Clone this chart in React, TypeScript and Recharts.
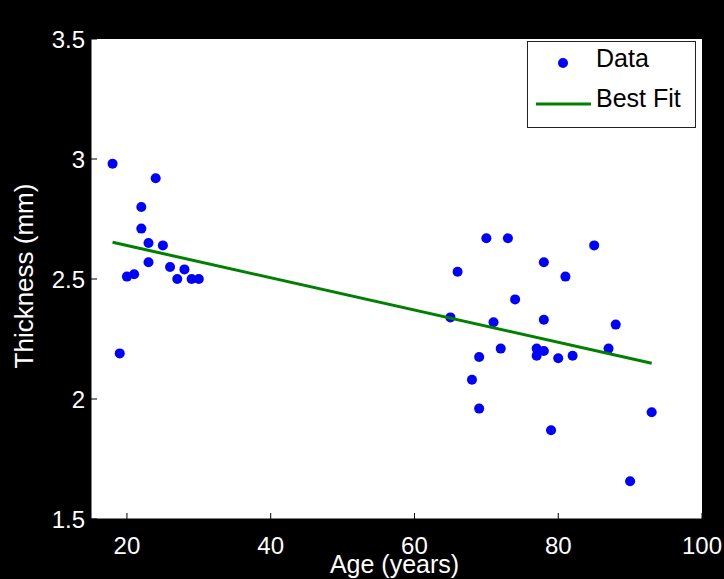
import React from 'react';
import { ScatterChart, Scatter, XAxis, YAxis, CartesianGrid, Legend, Label } from 'recharts';

const ages = [18, 19, 20, 21, 22, 22, 23, 23, 24, 25, 26, 27, 28, 29, 30,
  65, 66, 68, 69, 69, 70, 71, 72, 73, 74, 77, 77, 78, 78, 78, 79, 80, 81, 82, 85, 87, 88, 90, 93];
const thickness = [2.98, 2.19, 2.51, 2.52, 2.80, 2.71, 2.65, 2.57, 2.92, 2.64, 2.55, 2.50, 2.54, 2.50, 2.50,
  2.34, 2.53, 2.08, 2.175, 1.96, 2.67, 2.32, 2.21, 2.67, 2.415, 2.21, 2.18, 2.57, 2.33, 2.20, 1.87, 2.17, 2.51, 2.18, 2.64, 2.21, 2.31, 1.657, 1.945];

const fitAges = [18, 93];
const fitThickness = [2.653, 2.149];

const xTicks = [20, 40, 60, 80, 100];
const yTicks = [1.5, 2, 2.5, 3, 3.5];
const xDomain = [15, 100];
const yDomain = [1.5, 3.5];

const seriesNames = ['Data', 'Best Fit'];
const xLabel = 'Age (years)';
const yLabel = 'Thickness (mm)';

const dataPoints = ages.map((a, i) => ({ x: a, y: thickness[i] }));
const fitPoints = fitAges.map((a, i) => ({ x: a, y: fitThickness[i] }));

const FONT = '"Liberation Sans", Arial, Helvetica, sans-serif';

const Dot = (p: any) => <circle cx={p.cx} cy={p.cy} r={5} fill="#0000ff" />;
const NoShape = () => <g />;
const NoTick = () => <g />;

const LegendBox = () => (
  <svg width={169} height={87} style={{ display: 'block' }}>
    <rect x={0.5} y={0.5} width={168} height={86} fill="#fff" stroke="#222" />
    <circle cx={36} cy={22} r={5} fill="#0000ff" />
    <text x={69} y={26} fontSize={25} fontFamily={FONT} fill="#000">{seriesNames[0]}</text>
    <line x1={9} x2={64} y1={63} y2={63} stroke="#008000" strokeWidth={3} />
    <text x={69} y={66} fontSize={25} fontFamily={FONT} fill="#000">{seriesNames[1]}</text>
  </svg>
);

export default function App() {
  const tickStyle = { fill: '#fff', fontSize: 24, fontFamily: FONT };
  return (
    <div style={{ position: 'absolute', left: 0, top: 0, width: 724, height: 579, background: '#000' }}>
      <ScatterChart width={724} height={579} margin={{ top: 39, right: 22, bottom: 0, left: 0 }}>
        <CartesianGrid fill="#fff" horizontal={false} vertical={false} />
        <XAxis xAxisId="b" type="number" dataKey="x" domain={xDomain} ticks={xTicks} orientation="bottom"
          height={60} allowDataOverflow stroke="#000" axisLine={{ stroke: '#000' }}
          tickLine={{ stroke: '#000' }} tickSize={-6} tickMargin={24} tick={tickStyle}>
          <Label content={() => (
            <text x={394.5} y={573} textAnchor="middle" fontSize={25} fontFamily={FONT} fill="#fff">{xLabel}</text>
          )} />
        </XAxis>
        <XAxis xAxisId="t" type="number" dataKey="x" domain={xDomain} ticks={xTicks} orientation="top"
          height={0} allowDataOverflow axisLine={{ stroke: '#000' }} tickLine={{ stroke: '#000' }}
          tickSize={-6} tick={NoTick} />
        <YAxis yAxisId="l" type="number" dataKey="y" domain={yDomain} ticks={yTicks} orientation="left"
          width={91} allowDataOverflow axisLine={{ stroke: '#000' }} tickLine={{ stroke: '#000' }}
          tickSize={-6} tickMargin={12} tick={tickStyle}>
          <Label content={() => (
            <text x={33} y={276} transform="rotate(-90 33 276)" textAnchor="middle" fontSize={26}
              fontFamily={FONT} fill="#fff">{yLabel}</text>
          )} />
        </YAxis>
        <YAxis yAxisId="r" type="number" dataKey="y" domain={yDomain} ticks={yTicks} orientation="right"
          width={0} allowDataOverflow axisLine={{ stroke: '#000' }} tickLine={{ stroke: '#000' }}
          tickSize={-6} tick={NoTick} />
        <Scatter name={seriesNames[0]} data={dataPoints} xAxisId="b" yAxisId="l" shape={Dot}
          isAnimationActive={false} />
        <Scatter name={seriesNames[1]} data={fitPoints} xAxisId="b" yAxisId="l" shape={NoShape}
          line={{ stroke: '#008000', strokeWidth: 3 }} isAnimationActive={false} />
        <Legend layout="vertical" align="center" verticalAlign="middle" content={LegendBox}
          wrapperStyle={{ position: 'absolute', left: 527, top: 41, width: 169, height: 87 }} />
      </ScatterChart>
    </div>
  );
}
